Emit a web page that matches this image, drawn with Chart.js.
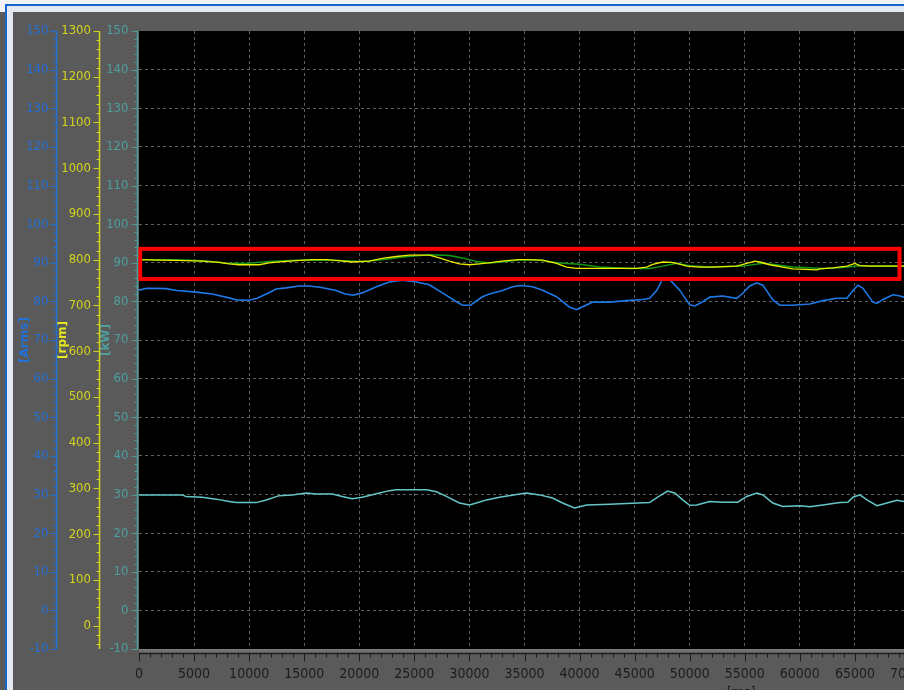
<!DOCTYPE html>
<html>
<head>
<meta charset="utf-8">
<script src="https://cdn.jsdelivr.net/npm/chart.js@4.4.1/dist/chart.umd.min.js"></script>
<style>
  html, body { margin: 0; padding: 0; }
  body { width: 904px; height: 690px; overflow: hidden; position: relative; background: #5a5a5a; }
  .strip { position: absolute; }
  #chart { position: absolute; left: 13px; top: 12px; }
</style>
</head>
<body>
<div class="strip" style="left:0;top:0;width:904px;height:4px;background:#f2f3f5"></div>
<div class="strip" style="left:0;top:0;width:5px;height:12px;background:#f2f3f5"></div>
<div class="strip" style="left:5px;top:4px;width:899px;height:2px;background:#1466cc"></div>
<div class="strip" style="left:5px;top:4px;width:2px;height:686px;background:#1466cc"></div>
<div class="strip" style="left:7px;top:6px;width:897px;height:6px;background:#e4e8f1"></div>
<div class="strip" style="left:7px;top:6px;width:6px;height:684px;background:#e4e8f1"></div>
<canvas id="chart" width="917" height="688"></canvas>
<script>
// Time stamps [ms] and values
const ampsTime = [0, 730, 2450, 3450, 5180, 6640, 8180, 8820, 10000, 10730, 11550, 12450, 13360, 14550, 15450, 16550, 17820, 18730, 19450, 20270, 21550, 22730, 23910, 25180, 26360, 27550, 28820, 29360, 30090, 31180, 31820, 33000, 33910, 34730, 35730, 36640, 37910, 39090, 39730, 40180, 41180, 42730, 44270, 45730, 46360, 47000, 47550, 48000, 48360, 49090, 50000, 50450, 51180, 51820, 53000, 54270, 54820, 55450, 56090, 56640, 57550, 58180, 59360, 60910, 62090, 63360, 64270, 64820, 65270, 65730, 66640, 67000, 67550, 68450, 69090, 69450, 70000];
const amps = [82.9, 83.4, 83.3, 82.8, 82.4, 81.9, 80.9, 80.4, 80.3, 80.8, 81.9, 83.2, 83.5, 84.0, 84.0, 83.6, 82.9, 81.9, 81.6, 82.2, 83.8, 85.0, 85.5, 85.0, 84.3, 82.2, 79.9, 79.0, 79.0, 81.2, 81.9, 82.8, 83.8, 84.1, 83.8, 82.9, 81.2, 78.5, 77.9, 78.5, 79.8, 79.8, 80.2, 80.5, 80.8, 82.8, 85.8, 86.1, 85.1, 82.9, 79.1, 78.8, 79.9, 81.1, 81.4, 80.8, 82.1, 84.0, 84.8, 84.2, 80.4, 79.0, 79.0, 79.3, 80.2, 80.8, 80.8, 82.8, 84.2, 83.4, 79.8, 79.5, 80.5, 81.7, 81.4, 81.1, 80.9];

const kwTime = [0, 3910, 4270, 5730, 7000, 8180, 8820, 10640, 11550, 12730, 13910, 15180, 16090, 17550, 18450, 19360, 20270, 21550, 22730, 23360, 26090, 27000, 27910, 29090, 30000, 30640, 31550, 32730, 34270, 35180, 36360, 37550, 38450, 39550, 40640, 42730, 44270, 46360, 47090, 48000, 48640, 49360, 50000, 50640, 51820, 53000, 54360, 55180, 56090, 56640, 57550, 58450, 60000, 60910, 62090, 63640, 64360, 64820, 65450, 66090, 67000, 67910, 68820, 69450, 70000];
const kw = [29.9, 29.9, 29.5, 29.3, 28.8, 28.2, 27.9, 27.9, 28.6, 29.7, 29.9, 30.4, 30.1, 30.1, 29.5, 28.9, 29.3, 30.2, 31.0, 31.2, 31.2, 30.7, 29.5, 27.8, 27.3, 27.8, 28.6, 29.3, 30.0, 30.4, 29.9, 29.1, 27.8, 26.5, 27.3, 27.5, 27.7, 27.9, 29.3, 30.9, 30.4, 28.6, 27.2, 27.3, 28.2, 28.0, 28.0, 29.5, 30.4, 29.9, 27.8, 26.9, 27.1, 26.8, 27.3, 27.9, 28.0, 29.3, 29.9, 28.6, 27.1, 27.8, 28.5, 28.2, 28.1];

const rpmTime = [0, 1820, 4270, 5730, 7270, 8180, 9090, 10910, 11820, 13000, 14270, 15730, 17000, 18180, 19360, 20910, 22090, 23360, 24550, 26360, 27270, 28180, 29090, 30000, 30910, 32090, 33360, 34550, 35180, 36640, 37910, 38820, 39730, 41550, 43360, 45180, 46090, 46640, 47550, 48360, 48820, 49730, 50910, 52090, 54270, 55180, 55910, 56360, 57270, 58450, 59360, 61550, 61820, 63000, 64270, 65000, 65450, 66360, 68910, 70000];
const rpm = [800, 799, 798, 797, 794, 791, 789, 789, 793, 796, 798, 800, 800, 798, 795, 797, 803, 807, 810, 810, 804, 797, 791, 789, 791, 794, 798, 800, 800, 799, 792, 784, 781, 781, 781, 781, 784, 790, 795, 794, 792, 786, 784, 784, 786, 792, 797, 795, 789, 784, 780, 778, 780, 782, 786, 792, 787, 786, 786, 786];

const rpmSetTime = [0, 3360, 5730, 7910, 9730, 11820, 14270, 17270, 20270, 22090, 23910, 26360, 28180, 29360, 30640, 31820, 33360, 34550, 36360, 38180, 40000, 41820, 44550, 46360, 47550, 48820, 50000, 51820, 54820, 56640, 57820, 59360, 62090, 63910, 65180, 68910, 70000];
const rpmSet = [800, 800, 798, 793, 792, 796, 799, 799, 796, 800, 806, 811, 809, 804, 796, 793, 796, 800, 799, 793, 790, 784, 781, 781, 786, 792, 787, 784, 786, 792, 789, 784, 781, 783, 786, 786, 786];

// highlighted band (kW axis units)
const boxTime = [100, 69050];
const boxKw = [85.8, 93.6];

const BLUE = '#2370d6';
const YELLOW = '#d4d41c';
const TEAL = '#4e9e9e';
const narrow = "'Liberation Sans Narrow', 'DejaVu Sans Condensed', sans-serif";

function pairs(xs, ys) {
    return xs.map((x, i) => ({ x: x, y: ys[i] }));
}

// axis lines and minor ticks, drawn from the scales
const axisDeco = {
    id: 'axisDeco',
    beforeDraw(chart) {
        const { ctx, chartArea: a } = chart;
        ctx.save();
        ctx.fillStyle = '#000';
        ctx.fillRect(a.left, a.top, a.right - a.left, a.bottom - a.top);
        ctx.restore();
    },
    afterDatasetsDraw(chart) {
        const { ctx } = chart;
        const sx = chart.scales.x, sk = chart.scales.kw;
        ctx.save();
        ctx.strokeStyle = '#ff0000';
        ctx.lineWidth = 4;
        const x1 = sx.getPixelForValue(boxTime[0]), x2 = sx.getPixelForValue(boxTime[1]);
        const y1 = sk.getPixelForValue(boxKw[1]), y2 = sk.getPixelForValue(boxKw[0]);
        ctx.strokeRect(x1, y1, x2 - x1, y2 - y1);
        ctx.restore();
    },
    afterDraw(chart) {
        const { ctx, chartArea: a } = chart;
        const yAxes = [
            { id: 'amps', color: BLUE, off: 1.5, minor: 2, major: 10, from: -10, to: 150 },
            { id: 'rpm', color: YELLOW, off: 1, minor: 20, major: 100, from: -40, to: 1300 },
            { id: 'kw', color: TEAL, off: 2, minor: 2, major: 10, from: -10, to: 150 }
        ];
        ctx.save();
        yAxes.forEach(ax => {
            const s = chart.scales[ax.id];
            const lx = Math.round(s.right - ax.off) + 0.5;
            ctx.strokeStyle = ax.color;
            ctx.lineWidth = 1.5;
            ctx.beginPath();
            ctx.moveTo(lx, a.top);
            ctx.lineTo(lx, a.bottom);
            ctx.stroke();
            ctx.lineWidth = 1;
            for (let v = ax.from; v <= ax.to; v += ax.minor) {
                const y = Math.round(s.getPixelForValue(v)) + 0.5;
                const len = (v % ax.major === 0) ? 6 : 3;
                ctx.beginPath();
                ctx.moveTo(lx - len, y);
                ctx.lineTo(lx, y);
                ctx.stroke();
            }
        });

        // time axis
        const sx = chart.scales.x;
        ctx.fillStyle = '#6f6f6f';
        ctx.fillRect(a.left, a.bottom, chart.width - a.left, 4);
        ctx.fillStyle = '#7c7c7c';
        ctx.fillRect(a.left, a.bottom, chart.width - a.left, 1);
        const ay = a.bottom + 4.5;
        ctx.strokeStyle = '#1c1c1c';
        ctx.lineWidth = 1.5;
        ctx.beginPath();
        ctx.moveTo(a.left, ay);
        ctx.lineTo(chart.width, ay);
        ctx.stroke();
        ctx.lineWidth = 1;
        for (let v = 0; v <= 72000; v += 1000) {
            const x = Math.round(sx.getPixelForValue(v)) + 0.5;
            const len = (v % 5000 === 0) ? 8 : 4;
            ctx.beginPath();
            ctx.moveTo(x, ay);
            ctx.lineTo(x, ay + len);
            ctx.stroke();
        }
        ctx.fillStyle = '#1c1c1c';
        ctx.font = '14px ' + narrow;
        ctx.textAlign = 'center';
        ctx.textBaseline = 'top';
        ctx.fillText('[ms]', 728, 674);
        ctx.restore();
    }
};

const gridColor = (lo, hi) => ctx => {
    const v = ctx.tick ? ctx.tick.value : null;
    return (v !== null && v > lo && v < hi) ? '#5e5e5e' : 'rgba(0,0,0,0)';
};

new Chart(document.getElementById('chart'), {
    type: 'line',
    data: {
        datasets: [
            { label: 'rpm set', data: pairs(rpmSetTime, rpmSet), yAxisID: 'rpm', borderColor: '#129a12', borderWidth: 1.5, order: 3 },
            { label: 'rpm', data: pairs(rpmTime, rpm), yAxisID: 'rpm', borderColor: '#ecec00', borderWidth: 1.3, order: 2 },
            { label: 'Arms', data: pairs(ampsTime, amps), yAxisID: 'amps', borderColor: '#1e78e4', borderWidth: 1.6, order: 1 },
            { label: 'kW', data: pairs(kwTime, kw), yAxisID: 'kw', borderColor: '#66c6c6', borderWidth: 1.5, order: 1 }
        ]
    },
    options: {
        responsive: false,
        animation: false,
        devicePixelRatio: 1,
        layout: { padding: { left: 0, top: 19, right: 20, bottom: 0 } },
        elements: { point: { radius: 0 }, line: { tension: 0 } },
        plugins: { legend: { display: false }, tooltip: { enabled: false } },
        scales: {
            x: {
                type: 'linear', position: 'bottom', min: 0, max: 70000,
                ticks: { stepSize: 5000, autoSkip: false, maxRotation: 0, color: '#1c1c1c', padding: 17,
                         font: { family: narrow, size: 14 }, callback: v => String(v) },
                grid: { drawTicks: false, color: gridColor(0, 70000), lineWidth: 1 },
                border: { display: false, dash: [3, 3] },
                afterFit: s => { s.height = 51; s.paddingRight = 0; s.paddingLeft = 0; }
            },
            amps: {
                type: 'linear', position: 'left', weight: 2, min: -10, max: 150,
                ticks: { stepSize: 10, autoSkip: false, color: BLUE, padding: 8.5,
                         font: { family: narrow, size: 13 }, callback: v => String(v) },
                grid: { drawOnChartArea: false, drawTicks: false },
                border: { display: false },
                title: { display: true, text: '[Arms]', color: BLUE, padding: { top: 6 },
                         font: { family: 'DejaVu Sans', size: 12, weight: 'bold', lineHeight: 1 } },
                afterFit: s => { s.width = 44; }
            },
            rpm: {
                type: 'linear', position: 'left', weight: 1, min: -51, max: 1300,
                ticks: { stepSize: 100, autoSkip: false, color: YELLOW, padding: 9,
                         font: { family: narrow, size: 13 }, callback: v => String(v) },
                afterBuildTicks: s => { s.ticks = s.ticks.filter(t => t.value >= 0 && t.value % 100 === 0); },
                grid: { drawOnChartArea: false, drawTicks: false },
                border: { display: false },
                title: { display: true, text: '[rpm]', color: '#e6e620', padding: { top: 0 },
                         font: { family: 'DejaVu Sans', size: 12, weight: 'bold', lineHeight: 1 } },
                afterFit: s => { s.width = 43; }
            },
            kw: {
                type: 'linear', position: 'left', weight: 0, min: -10, max: 150,
                ticks: { stepSize: 10, autoSkip: false, color: TEAL, padding: 10.5,
                         font: { family: narrow, size: 13 }, callback: v => String(v) },
                grid: { drawTicks: false, color: gridColor(-10, 150), lineWidth: 1 },
                border: { display: false, dash: [3, 3] },
                title: { display: true, text: '[kW]', color: TEAL, padding: { top: 0 },
                         font: { family: 'DejaVu Sans', size: 12, weight: 'bold', lineHeight: 1 } },
                afterFit: s => { s.width = 39; }
            }
        }
    },
    plugins: [axisDeco]
});
</script>
</body>
</html>
